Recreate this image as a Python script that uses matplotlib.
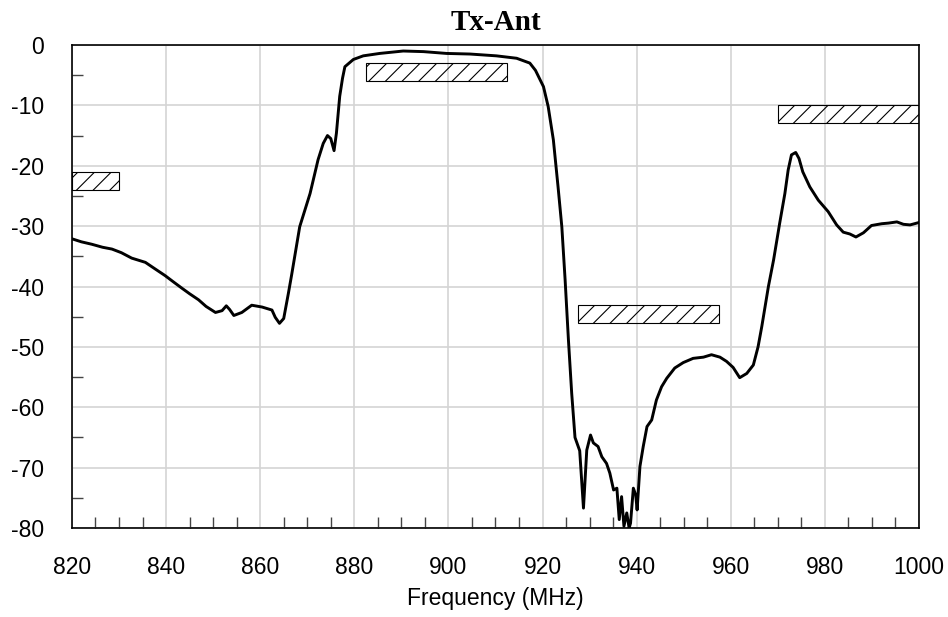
import numpy as np
import matplotlib
matplotlib.use("Agg")
import matplotlib.pyplot as plt
from matplotlib.ticker import MultipleLocator

plt.rcParams['font.family'] = ['Liberation Sans', 'DejaVu Sans']
plt.rcParams['axes.unicode_minus'] = False
plt.rcParams['hatch.linewidth'] = 0.8

freq = [820.0, 822.0, 824.2, 826.5, 828.5, 830.5, 832.7, 835.6, 837.5, 839.8,
        841.5, 843.4, 845.0, 846.9, 848.5, 850.5, 851.9, 852.8, 853.5, 854.4,
        856.1, 858.2, 860.4, 862.5, 863.2, 864.1, 865.0, 866.0, 866.7, 868.4,
        870.6, 872.3, 873.4, 874.3, 875.0, 875.7, 876.2, 876.9, 877.5, 878.0,
        879.8, 881.9, 885.4, 890.4, 894.7, 899.6, 904.6, 910.2, 914.5, 917.3,
        918.5, 920.2, 921.2, 922.3, 923.3, 924.1, 924.8, 925.5, 926.2, 926.9,
        927.9, 928.7, 929.4, 930.2, 930.8, 931.8, 932.6, 933.6, 934.3, 935.1,
        935.8, 936.3, 936.8, 937.3, 937.9, 938.4, 938.7, 939.3, 939.8, 940.1,
        940.7, 941.4, 942.2, 943.2, 944.2, 945.3, 946.4, 948.1, 949.9, 952.0,
        954.2, 955.9, 957.7, 959.1, 960.5, 961.9, 963.4, 964.8, 965.8, 966.6,
        968.0, 969.1, 970.4, 971.5, 972.2, 972.9, 973.8, 974.5, 975.3, 976.8,
        978.6, 980.7, 982.5, 983.9, 985.3, 986.6, 988.2, 989.9, 992.1, 993.5,
        995.3, 996.7, 998.1, 1000.0]
loss = [-32.1, -32.6, -33.0, -33.5, -33.8, -34.4, -35.3, -36.0, -37.0, -38.2,
        -39.2, -40.3, -41.2, -42.2, -43.3, -44.3, -44.0, -43.2, -43.8, -44.8,
        -44.3, -43.1, -43.4, -43.9, -45.1, -46.1, -45.3, -41.1, -38.0, -30.1,
        -24.6, -19.0, -16.3, -15.0, -15.5, -17.5, -14.6, -8.5, -5.5, -3.6,
        -2.4, -1.8, -1.4, -1.0, -1.1, -1.4, -1.5, -1.8, -2.2, -3.0,
        -4.2, -6.9, -10.2, -15.7, -23.5, -30.1, -38.9, -48.8, -57.7, -65.0,
        -67.2, -76.7, -67.1, -64.6, -65.9, -66.5, -68.2, -69.3, -70.9, -73.7,
        -73.4, -78.6, -74.8, -79.7, -77.5, -80.0, -79.2, -73.4, -74.5, -77.0,
        -69.8, -66.5, -63.2, -62.1, -58.8, -56.6, -55.2, -53.5, -52.6, -51.9,
        -51.7, -51.3, -51.7, -52.4, -53.4, -55.1, -54.4, -53.0, -50.0, -46.6,
        -40.0, -35.6, -29.5, -24.6, -20.7, -18.2, -17.8, -18.8, -21.0, -23.5,
        -25.7, -27.6, -29.8, -31.0, -31.3, -31.8, -31.1, -29.9, -29.6, -29.5,
        -29.3, -29.7, -29.8, -29.4]

# spec masks: start, stop, top, bottom
mask_start = [820.0, 882.5, 927.5, 970.0]
mask_stop = [830.0, 912.5, 957.5, 1000.0]
mask_top = [-21.0, -3.0, -43.0, -10.0]
mask_bot = [-24.0, -6.0, -46.0, -13.0]

fig = plt.figure(figsize=(9.48, 6.17), dpi=100)
ax = fig.add_axes([0.0759, 0.1442, 0.8935, 0.7829])

ax.bar(mask_start, np.array(mask_top) - np.array(mask_bot),
       width=np.array(mask_stop) - np.array(mask_start), bottom=mask_bot,
       align='edge', fill=False, hatch='//', edgecolor='black', linewidth=0.8,
       zorder=2)

ax.plot(freq, loss, color='black', linewidth=2.1, zorder=3)

ax.set_xlim(820, 1000)
ax.set_ylim(-80, 0)
ax.xaxis.set_major_locator(MultipleLocator(20))
ax.xaxis.set_minor_locator(MultipleLocator(5))
ax.yaxis.set_major_locator(MultipleLocator(10))
ax.yaxis.set_minor_locator(MultipleLocator(5))
ax.grid(True, which='major', color='#d4d4d4', linewidth=1.2, zorder=0)
ax.set_axisbelow(True)
ax.tick_params(which='major', length=0, pad=20, labelsize=16.5)
ax.tick_params(which='minor', direction='in', length=8, width=1.0,
               color='#444444')
for s in ax.spines.values():
    s.set_linewidth(1.2)

ax.set_xlabel('Frequency (MHz)', fontsize=16.5, labelpad=6)
ax.set_title('Tx-Ant', fontsize=21, fontweight='bold',
             family=['Liberation Serif', 'DejaVu Serif'], pad=11)

fig.savefig('out.png', dpi=100)
